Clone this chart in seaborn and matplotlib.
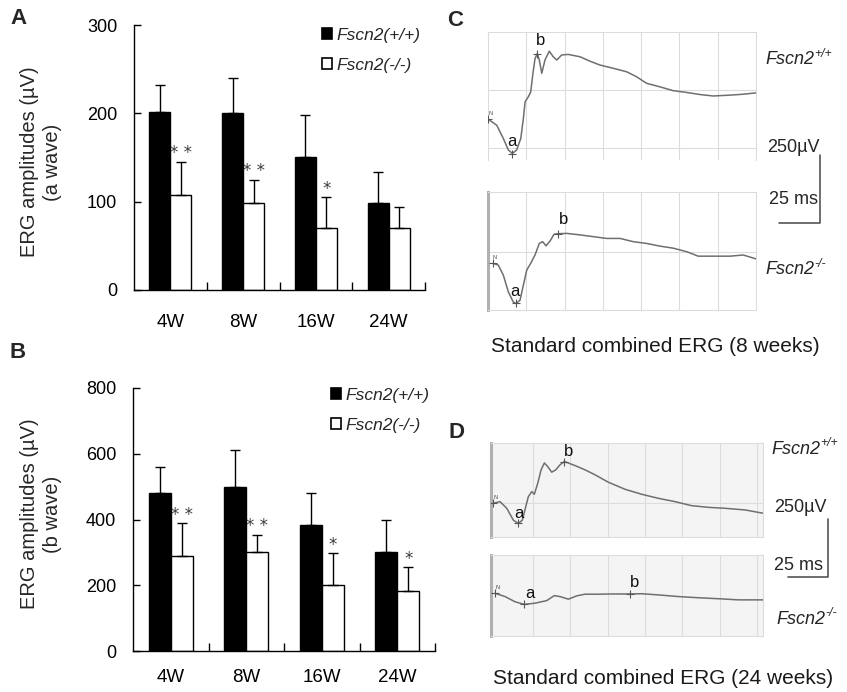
import numpy as np
import pandas as pd
import matplotlib
matplotlib.use("Agg")
import matplotlib.pyplot as plt
import seaborn as sns
from matplotlib.patches import Patch
from matplotlib.lines import Line2D

# ---------------- data ----------------
weeks = ["4W", "8W", "16W", "24W"]
genotypes = ["Fscn2(+/+)", "Fscn2(-/-)"]

a_wt = [202, 200, 150, 98]
a_wt_sd = [30, 40, 48, 36]
a_ko = [108, 99, 70, 70]
a_ko_sd = [37, 26, 35, 24]
a_sig = ["* *", "* *", "*", ""]

b_wt = [480, 500, 382, 300]
b_wt_sd = [80, 110, 100, 100]
b_ko = [288, 300, 200, 184]
b_ko_sd = [100, 53, 97, 71]
b_sig = ["* *", "* *", "*", "*"]

# ERG traces: time (ms) and amplitude (uV); marks = indices of N, a, b
c8_wt_t = [0.2, 5.7, 10.0, 13.3, 15.9, 18.7, 21.4, 23.1, 24.2, 26.3, 27.9, 29.2, 30.7, 32.2,
           33.5, 35.1, 37.2, 40.0, 42.6, 44.9, 48.1, 52.4, 60.1, 66.6, 73.1, 81.8, 90.6, 97.1,
           103.6, 112.3, 121.0, 129.8, 138.4, 147.1, 158.0, 166.7, 175.5]
c8_wt_v = [-99, -119, -164, -203, -215, -203, -164, -96, -40, -23, -6, 51, 107, 124,
           102, 57, 102, 132, 113, 102, 119, 121, 113, 98, 85, 74, 62, 45,
           23, 11, -2, -8, -15, -20, -17, -14, -9]
c8_wt_marks = [0, 4, 13]

c8_ko_t = [3.1, 6.7, 10.0, 13.3, 16.5, 18.3, 20.9, 23.1, 25.3, 27.9, 30.7, 33.5, 35.7, 37.9,
           40.5, 43.1, 45.9, 51.4, 60.1, 68.8, 77.5, 86.2, 94.9, 103.6, 112.3, 121.0, 129.8,
           137.3, 147.1, 158.0, 166.7, 175.5]
c8_ko_v = [-39, -45, -79, -136, -170, -175, -164, -113, -62, -39, -11, 28, 34, 20,
           36, 59, 61, 62, 57, 51, 45, 45, 34, 28, 19, 12, 0,
           -15, -15, -15, -11, -25]
c8_ko_marks = [0, 5, 16]

c24_wt_t = [-1.1, 3.3, 7.8, 12.2, 15.5, 18.2, 20.5, 22.2, 24.5, 26.2, 28.5, 30.7, 32.9, 35.1,
            37.8, 40.5, 43.3, 46.2, 53.3, 60.0, 66.7, 75.5, 86.7, 97.8, 108.9, 120.0, 131.1,
            142.2, 153.3, 166.7, 178.9]
c24_wt_v = [0, 7, -21, -71, -85, -71, -14, 28, 49, 38, 85, 141, 170, 155,
            131, 141, 162, 176, 159, 141, 120, 89, 59, 38, 21, 7, -10,
            -17, -21, -28, -42]
c24_wt_marks = [0, 4, 17]

c24_ko_t = [0, 6.7, 13.3, 19.5, 26.7, 34.5, 39.5, 43.3, 48.9, 54.5, 60.0, 68.9, 77.8, 84.5,
            90.0, 97.8, 108.9, 122.3, 135.6, 151.6, 162.2, 178.9]
c24_ko_v = [0, -14, -36, -47, -42, -31, -10, -14, -25, -11, -4, -4, -3, -3,
            -3, -2, -7, -14, -19, -24, -28, -28]
c24_ko_marks = [0, 3, 14]

# ---------------- style ----------------
sns.set_theme(style="white")
plt.rcParams["font.family"] = ["Liberation Sans", "DejaVu Sans"]
plt.rcParams["mathtext.fontset"] = "custom"
plt.rcParams["mathtext.rm"] = "Liberation Sans"
plt.rcParams["mathtext.it"] = "Liberation Sans:italic"

W, H = 847, 692
fig = plt.figure(figsize=(W / 100, H / 100), dpi=100)
fig.patch.set_facecolor("white")


def rect(l, t, r, b):
    return [l / W, 1 - b / H, (r - l) / W, (b - t) / H]


def fx(px):
    return px / W


def fy(py):
    return 1 - py / H


def bar_panel(box, wt, wt_sd, ko, ko_sd, sig, ymax, ystep, xpad, leg_anchor):
    ax = fig.add_axes(rect(*box))
    df = pd.DataFrame({
        "week": weeks * 2,
        "genotype": [genotypes[0]] * 4 + [genotypes[1]] * 4,
        "value": wt + ko,
    })
    sns.barplot(data=df, x="week", y="value", hue="genotype", order=weeks,
                hue_order=genotypes, palette={genotypes[0]: "black", genotypes[1]: "white"},
                saturation=1, edgecolor="black", linewidth=1.0, width=0.58, gap=0,
                errorbar=None, legend=False, ax=ax)
    for cont, vals, sds in zip(ax.containers, [wt, ko], [wt_sd, ko_sd]):
        xs = [p.get_x() + p.get_width() / 2 for p in cont]
        ax.errorbar(xs, vals, yerr=[np.zeros(len(vals)), sds], fmt="none", ecolor="black",
                    elinewidth=1.0, capsize=3.5, capthick=1.0, zorder=3)
        if vals is ko:
            for x, v, s, st in zip(xs, vals, sds, sig):
                if st:
                    ax.annotate(st, (x, v + s), xytext=(0, 2.5), textcoords="offset points",
                                ha="center", va="baseline", fontsize=12, color="#3a3a3a",
                                family="DejaVu Sans")
    ax.set_xlim(-0.5, 3.5)
    ax.set_ylim(0, ymax)
    ax.set_yticks(np.arange(0, ymax + 1, ystep))
    ax.set_xlabel("")
    ax.set_ylabel("")
    sns.despine(ax=ax)
    for s in ["left", "bottom"]:
        ax.spines[s].set_color("black")
        ax.spines[s].set_linewidth(1.0)
    ax.tick_params(axis="y", direction="in", length=5, width=1, pad=12, labelsize=13,
                   colors="black", left=True)
    ax.tick_params(axis="x", which="major", length=0, pad=xpad, labelsize=13.5, colors="black")
    ax.set_xticks([0.5, 1.5, 2.5, 3.5], minor=True)
    ax.tick_params(axis="x", which="minor", direction="in", length=6, width=1,
                   bottom=True, color="black")
    handles = [Patch(facecolor="black", edgecolor="black", lw=1.2),
               Patch(facecolor="white", edgecolor="black", lw=1.2)]
    ax.legend(handles, genotypes, loc="upper left", bbox_to_anchor=leg_anchor,
              bbox_transform=fig.transFigure, frameon=False, borderpad=0, borderaxespad=0,
              handlelength=0.6, handleheight=0.6, handletextpad=0.25, labelspacing=0.85,
              prop={"style": "italic", "size": 12.5})
    return ax


axA = bar_panel((134, 25, 425, 290), a_wt, a_wt_sd, a_ko, a_ko_sd, a_sig, 300, 100, 17,
                (fx(322), fy(28)))
axB = bar_panel((133, 388, 435, 651), b_wt, b_wt_sd, b_ko, b_ko_sd, b_sig, 800, 200, 13,
                (fx(331), fy(388)))

fig.text(fx(41), fy(162), "ERG amplitudes (µV)\n(a wave)", rotation=90, ha="center",
         va="center", multialignment="center", fontsize=14.5, linespacing=1.3)
fig.text(fx(41), fy(514), "ERG amplitudes (µV)\n(b wave)", rotation=90, ha="center",
         va="center", multialignment="center", fontsize=14.5, linespacing=1.3)


def trace_panel(box, t, v, marks, xlim, ylim, xgrid, ygrid, face, heavy_left, offs,
                no_bottom=False):
    ax = fig.add_axes(rect(*box))
    ax.set_facecolor(face)
    sns.lineplot(x=t, y=v, ax=ax, color="#6f6f6f", lw=1.1, sort=False, estimator=None,
                 zorder=3)
    mt = [t[i] for i in marks]
    mv = [v[i] for i in marks]
    sns.scatterplot(x=mt, y=mv, marker="+", s=30, color="#555555", linewidth=0.8, ax=ax,
                    zorder=4)
    ax.set_xlim(*xlim)
    ax.set_ylim(*ylim)
    ax.set_xticks(xgrid)
    ax.set_yticks(ygrid)
    ax.grid(True, color="#dcdcdc", lw=0.8)
    ax.set_axisbelow(True)
    ax.tick_params(length=0, labelbottom=False, labelleft=False)
    for s in ax.spines.values():
        s.set_color("#dcdcdc")
        s.set_linewidth(0.8)
    if no_bottom:
        ax.spines["bottom"].set_visible(False)
    if heavy_left:
        ax.spines["left"].set_color("#b0b0b0")
        ax.spines["left"].set_linewidth(2.2)
    ax.annotate("N", (mt[0], mv[0]), xytext=(1.5, 4), textcoords="offset points",
                fontsize=4, ha="center", va="center", color="#444444")
    for lab, x, y, off in zip(["a", "b"], mt[1:], mv[1:], offs):
        ax.annotate(lab, (x, y), xytext=off, textcoords="offset points", fontsize=12,
                    ha="center", va="center", color="#111111")
    return ax


grid_c = [25, 50, 75, 100, 125, 150]
grid_d = [25, 50, 75, 100, 125, 150, 175]
axC1 = trace_panel((488, 32, 756, 160), c8_wt_t, c8_wt_v, c8_wt_marks, (0, 175), (-237, 197),
                   grid_c, [0, -198], "white", False, [(0, 8.5), (2, 9.5)], no_bottom=True)
axC2 = trace_panel((488, 192, 756, 310), c8_ko_t, c8_ko_v, c8_ko_marks, (0, 175), (-197, 202),
                   grid_c, [0], "white", True, [(-1, 8.5), (3.5, 10)])
axD1 = trace_panel((491, 443, 763, 537), c24_wt_t, c24_wt_v, c24_wt_marks, (-2.7, 178.7),
                   (-142, 254), grid_d, [0], "#f4f4f4", True, [(0.5, 7.5), (3, 7.5)])
axD2 = trace_panel((491, 555, 763, 636), c24_ko_t, c24_ko_v, c24_ko_marks, (-2.7, 178.7),
                   (-181, 162), grid_d, [], "#f4f4f4", True, [(4, 8), (3, 8)])


def ftext(px, py, s, **kw):
    return fig.text(fx(px), fy(py), s, **kw)


def geno(px, py, sup, size=13):
    t = ftext(px, py, "Fscn2", fontsize=size, style="italic", ha="left", va="center")
    axC1.annotate(sup, xy=(1.0, 0.5), xycoords=t, fontsize=size * 0.68, style="italic",
                  ha="left", va="bottom", annotation_clip=False)


geno(765, 60, "+/+")
geno(765, 270, "-/-")
ftext(767, 147, "250µV", fontsize=13, ha="left", va="center")
ftext(769, 200, "25 ms", fontsize=13, ha="left", va="center")
fig.add_artist(Line2D([fx(820), fx(820), fx(779)], [fy(155), fy(223), fy(223)],
                      color="#555555", lw=1.2))

geno(771, 449, "+/+")
geno(776, 619, "-/-")
ftext(774, 507, "250µV", fontsize=13, ha="left", va="center")
ftext(774, 565, "25 ms", fontsize=13, ha="left", va="center")
fig.add_artist(Line2D([fx(828), fx(828), fx(788)], [fy(519), fy(577), fy(577)],
                      color="#555555", lw=1.2))

ftext(655, 347, "Standard combined ERG (8 weeks)", fontsize=15, ha="center", va="center",
      color="#1a1a1a")
ftext(663, 678, "Standard combined ERG (24 weeks)", fontsize=15, ha="center", va="center",
      color="#1a1a1a")

for lab, px, py in [("A", 18, 18), ("B", 18, 353), ("C", 455, 20), ("D", 456, 432)]:
    ftext(px, py, lab, fontsize=16, fontweight="bold", ha="center", va="center")

fig.savefig("out.png", dpi=100, facecolor="white")
